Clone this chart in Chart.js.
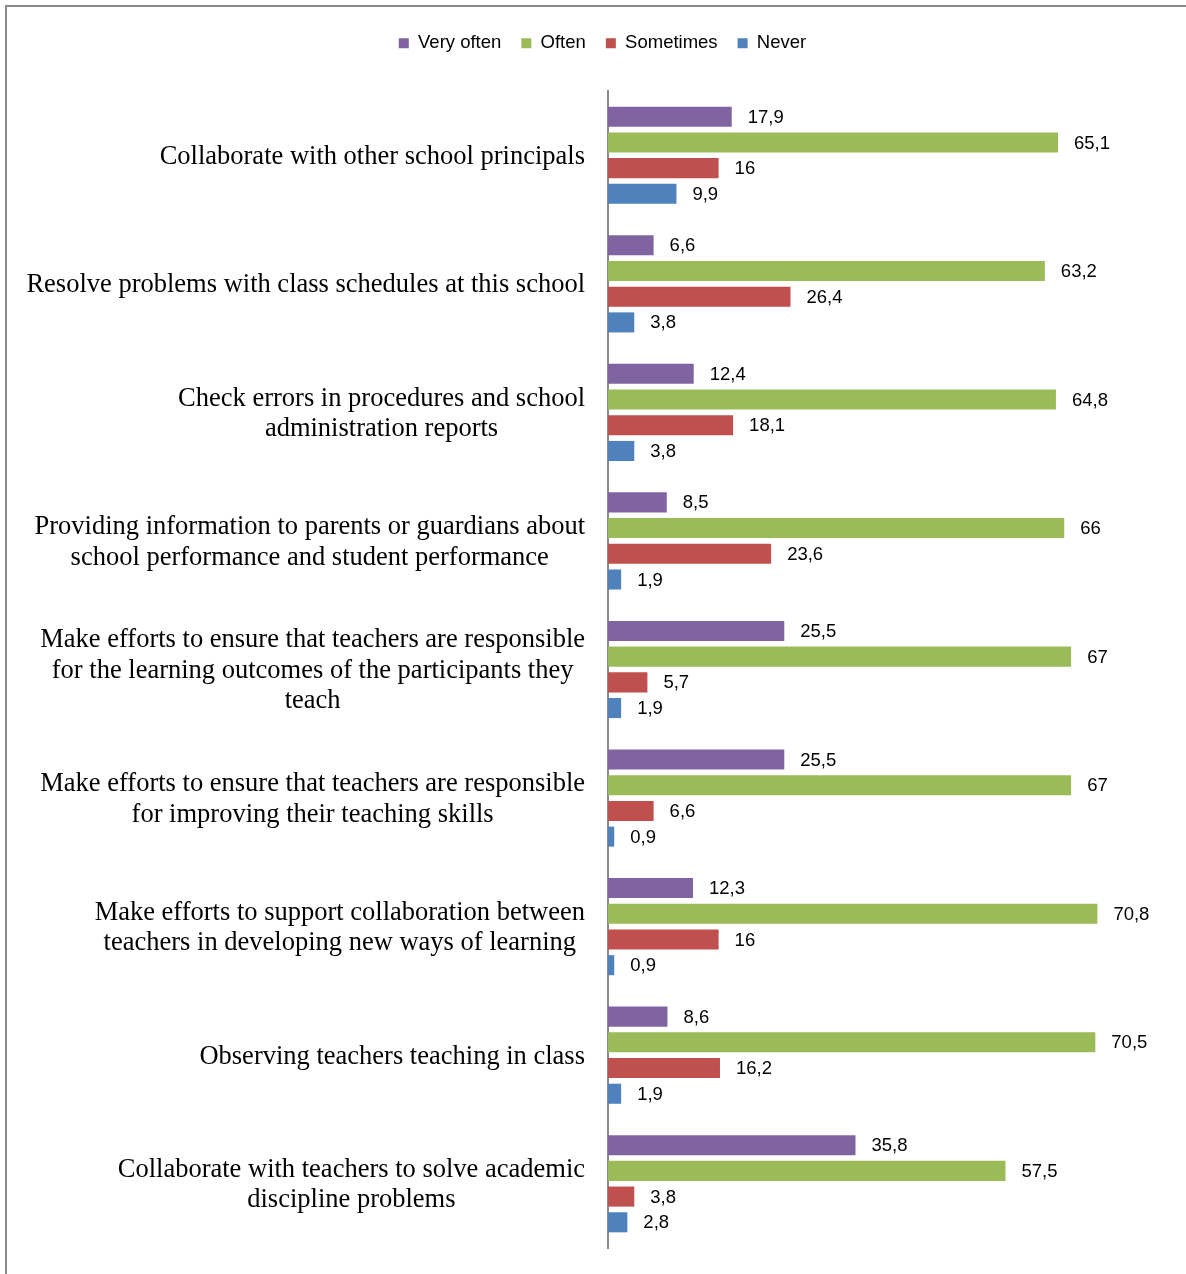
<!DOCTYPE html>
<html>
<head>
<meta charset="utf-8">
<script src="https://cdn.jsdelivr.net/npm/chart.js@4.4.1/dist/chart.umd.min.js"></script>
<style>
  html, body { margin: 0; padding: 0; background: #ffffff; }
  #wrap { position: relative; width: 1186px; height: 1274px; }
</style>
</head>
<body>
<div id="wrap"><canvas id="activityChart"></canvas></div>
<script>
// Categories (each entry is the lines of the label)
const categories = [
    ['Collaborate with other school principals'],
    ['Resolve problems with class schedules at this school'],
    ['Check errors in procedures and school', 'administration reports'],
    ['Providing information to parents or guardians about', 'school performance and student performance'],
    ['Make efforts to ensure that teachers are responsible', 'for the learning outcomes of the participants they', 'teach'],
    ['Make efforts to ensure that teachers are responsible', 'for improving their teaching skills'],
    ['Make efforts to support collaboration between', 'teachers in developing new ways of learning'],
    ['Observing teachers teaching in class'],
    ['Collaborate with teachers to solve academic', 'discipline problems']
];

const seriesNames = ['Very often', 'Often', 'Sometimes', 'Never'];

const veryOften = [17.9, 6.6, 12.4, 8.5, 25.5, 25.5, 12.3, 8.6, 35.8];
const often     = [65.1, 63.2, 64.8, 66, 67, 67, 70.8, 70.5, 57.5];
const sometimes = [16, 26.4, 18.1, 23.6, 5.7, 6.6, 16, 16.2, 3.8];
const never     = [9.9, 3.8, 3.8, 1.9, 1.9, 0.9, 0.9, 1.9, 2.8];

const seriesColors = ['#8064A2', '#9BBB59', '#C0504D', '#4F81BD'];

// Frame lines (top + left) like the original figure border
const frameBorderPlugin = {
    id: 'frameBorder',
    beforeDraw(chart) {
        const { ctx } = chart;
        ctx.save();
        ctx.fillStyle = '#8a8a8a';
        ctx.fillRect(5, 5, chart.width - 5, 2);
        ctx.fillRect(5, 5, 2, chart.height - 5);
        ctx.restore();
    }
};

// Category labels: block right-aligned to the axis, lines centered in the block
const categoryLabelPlugin = {
    id: 'categoryLabels',
    afterDraw(chart) {
        const { ctx } = chart;
        const yScale = chart.scales.y;
        const rightEdge = chart.chartArea.left - 23;
        const lineHeight = 30.5;
        ctx.save();
        ctx.font = '26.5px "Liberation Serif", "Times New Roman", serif';
        ctx.fillStyle = '#000000';
        ctx.textAlign = 'center';
        ctx.textBaseline = 'middle';
        categories.forEach((lines, i) => {
            const cy = yScale.getPixelForValue(i) + 1.5;
            const blockWidth = Math.max(...lines.map(l => ctx.measureText(l).width));
            const cx = rightEdge - blockWidth / 2;
            const startY = cy - (lines.length - 1) * lineHeight / 2;
            lines.forEach((line, j) => {
                ctx.fillText(line, cx, startY + j * lineHeight);
            });
        });
        ctx.restore();
    }
};

// Value labels at the end of each bar, comma as decimal separator
const valueLabelPlugin = {
    id: 'valueLabels',
    afterDatasetsDraw(chart) {
        const { ctx } = chart;
        ctx.save();
        ctx.font = '18.5px "Liberation Sans", Arial, sans-serif';
        ctx.fillStyle = '#000000';
        ctx.textAlign = 'left';
        ctx.textBaseline = 'middle';
        chart.data.datasets.forEach((ds, di) => {
            const meta = chart.getDatasetMeta(di);
            meta.data.forEach((bar, i) => {
                const text = String(ds.data[i]).replace('.', ',');
                ctx.fillText(text, bar.x + 16, bar.y + 1);
            });
        });
        ctx.restore();
    }
};

const ctx = document.getElementById('activityChart').getContext('2d');
new Chart(ctx, {
    type: 'bar',
    data: {
        labels: categories,
        datasets: [veryOften, often, sometimes, never].map((values, i) => ({
            label: seriesNames[i],
            data: values,
            backgroundColor: seriesColors[i],
            borderWidth: 0,
            categoryPercentage: 0.8,
            barPercentage: 0.78
        }))
    },
    plugins: [frameBorderPlugin, categoryLabelPlugin, valueLabelPlugin],
    options: {
        indexAxis: 'y',
        responsive: true,
        maintainAspectRatio: false,
        animation: false,
        layout: {
            padding: { left: 44, right: 25, top: 14, bottom: 26 }
        },
        plugins: {
            legend: {
                position: 'top',
                labels: {
                    boxWidth: 10,
                    boxHeight: 10,
                    padding: 20,
                    color: '#000000',
                    font: {
                        family: 'Liberation Sans',
                        size: 18.5
                    }
                }
            },
            tooltip: { enabled: false }
        },
        scales: {
            x: {
                position: 'top',
                min: 0,
                max: 80,
                grid: { display: false },
                border: { display: false },
                ticks: { display: false },
                afterFit(scale) {
                    scale.height = 28.5;
                }
            },
            y: {
                grid: { display: false },
                border: { color: '#8a8a8a', width: 2 },
                ticks: { display: false },
                afterFit(scale) {
                    scale.width = 564;
                }
            }
        }
    }
});
</script>
</body>
</html>
